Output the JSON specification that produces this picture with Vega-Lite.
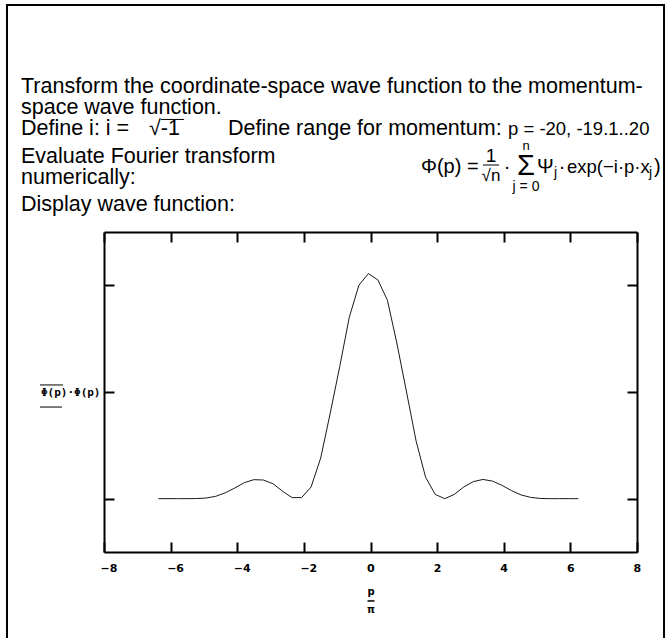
{
  "$schema": "https://vega.github.io/schema/vega-lite/v6.json",
  "width": 533,
  "height": 320,
  "autosize": {"type": "none"},
  "padding": {"left": 104, "top": 232, "right": 33, "bottom": 86},
  "background": "white",
  "config": {"view": {"stroke": null}, "font": "Liberation Sans"},
  "datasets": {
    "wave": [
      {"p_over_pi": -6.366, "density": 0},
      {"p_over_pi": -6.080, "density": 0},
      {"p_over_pi": -5.793, "density": 0},
      {"p_over_pi": -5.507, "density": 0},
      {"p_over_pi": -5.220, "density": 0.001},
      {"p_over_pi": -4.934, "density": 0.006},
      {"p_over_pi": -4.647, "density": 0.022},
      {"p_over_pi": -4.361, "density": 0.055},
      {"p_over_pi": -4.074, "density": 0.100},
      {"p_over_pi": -3.788, "density": 0.150},
      {"p_over_pi": -3.501, "density": 0.178},
      {"p_over_pi": -3.215, "density": 0.175},
      {"p_over_pi": -2.928, "density": 0.140},
      {"p_over_pi": -2.642, "density": 0.070},
      {"p_over_pi": -2.355, "density": 0.010},
      {"p_over_pi": -2.069, "density": 0.010},
      {"p_over_pi": -1.783, "density": 0.110},
      {"p_over_pi": -1.496, "density": 0.380},
      {"p_over_pi": -1.210, "density": 0.800},
      {"p_over_pi": -0.923, "density": 1.240},
      {"p_over_pi": -0.637, "density": 1.700},
      {"p_over_pi": -0.350, "density": 2.000},
      {"p_over_pi": -0.064, "density": 2.110},
      {"p_over_pi": 0.223, "density": 2.050},
      {"p_over_pi": 0.509, "density": 1.860},
      {"p_over_pi": 0.796, "density": 1.450},
      {"p_over_pi": 1.082, "density": 1.000},
      {"p_over_pi": 1.369, "density": 0.540},
      {"p_over_pi": 1.655, "density": 0.200},
      {"p_over_pi": 1.942, "density": 0.040},
      {"p_over_pi": 2.228, "density": 0.000},
      {"p_over_pi": 2.515, "density": 0.040},
      {"p_over_pi": 2.801, "density": 0.110},
      {"p_over_pi": 3.088, "density": 0.160},
      {"p_over_pi": 3.374, "density": 0.180},
      {"p_over_pi": 3.661, "density": 0.165},
      {"p_over_pi": 3.947, "density": 0.125},
      {"p_over_pi": 4.234, "density": 0.075},
      {"p_over_pi": 4.520, "density": 0.035},
      {"p_over_pi": 4.806, "density": 0.012},
      {"p_over_pi": 5.093, "density": 0.002},
      {"p_over_pi": 5.379, "density": 0},
      {"p_over_pi": 5.666, "density": 0},
      {"p_over_pi": 5.952, "density": 0},
      {"p_over_pi": 6.239, "density": 0}
    ]
  },
  "layer": [
    {
      "data": {"name": "wave"},
      "mark": {"type": "line", "color": "#1a1a1a", "strokeWidth": 1},
      "encoding": {
        "x": {
          "field": "p_over_pi", "type": "quantitative",
          "scale": {"domain": [-8, 8], "nice": false, "zero": false},
          "axis": {
            "orient": "bottom", "values": [-8, -6, -4, -2, 0, 2, 4, 6, 8],
            "grid": false, "tickSize": -10, "tickWidth": 2, "tickColor": "black",
            "domainColor": "black", "domainWidth": 2,
            "labelFont": "DejaVu Sans", "labelFontWeight": "bold", "labelFontSize": 11,
            "labelColor": "black", "labelPadding": 20, "labelAlign": "left", "labelOffset": -4,
            "labelFlush": true, "labelFlushOffset": 0,
            "title": ["p", "π"], "titleFont": "DejaVu Sans", "titleFontWeight": "bold",
            "titleFontSize": 10, "titleLineHeight": 18, "titlePadding": 13, "titleColor": "black"
          }
        },
        "y": {
          "field": "density", "type": "quantitative",
          "scale": {"domain": [-0.5, 2.5], "nice": false, "zero": false},
          "axis": {
            "orient": "left", "values": [0, 1, 2], "labels": false,
            "grid": false, "tickSize": -10, "tickWidth": 2, "tickColor": "black",
            "domainColor": "black", "domainWidth": 2,
            "title": "Φ(p)·Φ(p)", "titleAngle": 0, "titleAlign": "right", "titleBaseline": "middle",
            "titlePadding": 3, "titleFont": "DejaVu Sans Mono", "titleFontWeight": "bold",
            "titleFontSize": 11, "titleColor": "black"
          }
        }
      }
    },
    {
      "data": {"name": "wave"},
      "mark": {"type": "line", "strokeOpacity": 0},
      "encoding": {
        "x": {
          "field": "p_over_pi", "type": "quantitative",
          "axis": {
            "orient": "top", "values": [-8, -6, -4, -2, 0, 2, 4, 6, 8], "labels": false,
            "grid": false, "tickSize": -10, "tickWidth": 2, "tickColor": "black",
            "domainColor": "black", "domainWidth": 2, "title": null
          }
        },
        "y": {
          "field": "density", "type": "quantitative",
          "axis": {
            "orient": "right", "values": [0, 1, 2], "labels": false,
            "grid": false, "tickSize": -10, "tickWidth": 2, "tickColor": "black",
            "domainColor": "black", "domainWidth": 2, "title": null
          }
        }
      }
    },
    {
      "data": {"values": [{}]},
      "mark": {"type": "rect", "fillOpacity": 0, "stroke": "black", "strokeWidth": 2},
      "encoding": {
        "x": {"datum": -10.912, "type": "quantitative", "axis": null},
        "x2": {"datum": 8.811},
        "y": {"datum": 4.628, "type": "quantitative", "axis": null},
        "y2": {"datum": -1.372}
      }
    },
    {
      "data": {"values": [{}]},
      "mark": {"type": "rule", "color": "black", "strokeWidth": 1.5},
      "encoding": {
        "x": {"datum": -0.09, "type": "quantitative", "axis": null},
        "x2": {"datum": 0.12},
        "y": {"datum": -0.959, "type": "quantitative", "axis": null}
      }
    },
    {
      "data": {"values": [{}]},
      "mark": {"type": "rule", "color": "black", "strokeWidth": 1},
      "encoding": {
        "x": {"datum": -9.921, "type": "quantitative", "axis": null},
        "x2": {"datum": -9.231},
        "y": {"datum": 1.066, "type": "quantitative", "axis": null}
      }
    },
    {
      "data": {"values": [{}]},
      "mark": {"type": "rule", "color": "black", "strokeWidth": 1},
      "encoding": {
        "x": {"datum": -9.921, "type": "quantitative", "axis": null},
        "x2": {"datum": -9.261},
        "y": {"datum": 0.859, "type": "quantitative", "axis": null}
      }
    },
    {
      "data": {"values": [{}]},
      "mark": {"type": "rule", "color": "black", "strokeWidth": 1},
      "encoding": {
        "x": {"datum": -6.289, "type": "quantitative", "axis": null},
        "x2": {"datum": -5.599},
        "y": {"datum": 3.555, "type": "quantitative", "axis": null}
      }
    },
    {
      "data": {"values": [{}]},
      "mark": {"type": "rule", "color": "black", "strokeWidth": 1},
      "encoding": {
        "x": {"datum": 3.377, "type": "quantitative", "axis": null},
        "x2": {"datum": 3.857},
        "y": {"datum": 3.128, "type": "quantitative", "axis": null}
      }
    },
    {
      "data": {"values": [{}]},
      "mark": {"type": "text", "align": "left", "baseline": "middle", "fontSize": 21.5, "color": "black"},
      "encoding": {
        "x": {"datum": -10.492, "type": "quantitative", "axis": null},
        "y": {"datum": 3.859, "type": "quantitative", "axis": null},
        "text": {"value": "Transform the coordinate-space wave function to the momentum-"}
      }
    },
    {
      "data": {"values": [{}]},
      "mark": {"type": "text", "align": "left", "baseline": "middle", "fontSize": 21.5, "color": "black"},
      "encoding": {
        "x": {"datum": -10.492, "type": "quantitative", "axis": null},
        "y": {"datum": 3.6625, "type": "quantitative", "axis": null},
        "text": {"value": "space wave function."}
      }
    },
    {
      "data": {"values": [{}]},
      "mark": {"type": "text", "align": "left", "baseline": "middle", "fontSize": 21.5, "color": "black"},
      "encoding": {
        "x": {"datum": -10.492, "type": "quantitative", "axis": null},
        "y": {"datum": 3.4656, "type": "quantitative", "axis": null},
        "text": {"value": "Define i:  i ="}
      }
    },
    {
      "data": {"values": [{}]},
      "mark": {"type": "text", "align": "left", "baseline": "middle", "fontSize": 21.5, "color": "black"},
      "encoding": {
        "x": {"datum": -6.649, "type": "quantitative", "axis": null},
        "y": {"datum": 3.4656, "type": "quantitative", "axis": null},
        "text": {"value": "√-1"}
      }
    },
    {
      "data": {"values": [{}]},
      "mark": {"type": "text", "align": "left", "baseline": "middle", "fontSize": 21.5, "color": "black"},
      "encoding": {
        "x": {"datum": -4.278, "type": "quantitative", "axis": null},
        "y": {"datum": 3.4656, "type": "quantitative", "axis": null},
        "text": {"value": "Define range for momentum:"}
      }
    },
    {
      "data": {"values": [{}]},
      "mark": {"type": "text", "align": "left", "baseline": "middle", "fontSize": 18.5, "color": "black"},
      "encoding": {
        "x": {"datum": 4.128, "type": "quantitative", "axis": null},
        "y": {"datum": 3.4656, "type": "quantitative", "axis": null},
        "text": {"value": "p = -20, -19.1..20"}
      }
    },
    {
      "data": {"values": [{}]},
      "mark": {"type": "text", "align": "left", "baseline": "middle", "fontSize": 21.5, "color": "black"},
      "encoding": {
        "x": {"datum": -10.492, "type": "quantitative", "axis": null},
        "y": {"datum": 3.203, "type": "quantitative", "axis": null},
        "text": {"value": "Evaluate Fourier transform"}
      }
    },
    {
      "data": {"values": [{}]},
      "mark": {"type": "text", "align": "left", "baseline": "middle", "fontSize": 21.5, "color": "black"},
      "encoding": {
        "x": {"datum": -10.492, "type": "quantitative", "axis": null},
        "y": {"datum": 3.006, "type": "quantitative", "axis": null},
        "text": {"value": "numerically:"}
      }
    },
    {
      "data": {"values": [{}]},
      "mark": {"type": "text", "align": "left", "baseline": "middle", "fontSize": 21.5, "color": "black"},
      "encoding": {
        "x": {"datum": -10.492, "type": "quantitative", "axis": null},
        "y": {"datum": 2.753, "type": "quantitative", "axis": null},
        "text": {"value": "Display wave function:"}
      }
    },
    {
      "data": {"values": [{}]},
      "mark": {"type": "text", "align": "left", "baseline": "middle", "fontSize": 20, "color": "black"},
      "encoding": {
        "x": {"datum": 1.516, "type": "quantitative", "axis": null},
        "y": {"datum": 3.109, "type": "quantitative", "axis": null},
        "text": {"value": "Φ(p) ="}
      }
    },
    {
      "data": {"values": [{}]},
      "mark": {"type": "text", "align": "center", "baseline": "middle", "fontSize": 19, "color": "black"},
      "encoding": {
        "x": {"datum": 3.617, "type": "quantitative", "axis": null},
        "y": {"datum": 3.2125, "type": "quantitative", "axis": null},
        "text": {"value": "1"}
      }
    },
    {
      "data": {"values": [{}]},
      "mark": {"type": "text", "align": "center", "baseline": "middle", "fontSize": 17, "color": "black"},
      "encoding": {
        "x": {"datum": 3.617, "type": "quantitative", "axis": null},
        "y": {"datum": 3.025, "type": "quantitative", "axis": null},
        "text": {"value": "√n"}
      }
    },
    {
      "data": {"values": [{}]},
      "mark": {"type": "text", "align": "center", "baseline": "middle", "fontSize": 20, "color": "black"},
      "encoding": {
        "x": {"datum": 4.098, "type": "quantitative", "axis": null},
        "y": {"datum": 3.109, "type": "quantitative", "axis": null},
        "text": {"value": "·"}
      }
    },
    {
      "data": {"values": [{}]},
      "mark": {"type": "text", "align": "center", "baseline": "middle", "fontSize": 29, "color": "black"},
      "encoding": {
        "x": {"datum": 4.668, "type": "quantitative", "axis": null},
        "y": {"datum": 3.119, "type": "quantitative", "axis": null},
        "text": {"value": "Σ"}
      }
    },
    {
      "data": {"values": [{}]},
      "mark": {"type": "text", "align": "center", "baseline": "middle", "fontSize": 13, "color": "black"},
      "encoding": {
        "x": {"datum": 4.668, "type": "quantitative", "axis": null},
        "y": {"datum": 3.306, "type": "quantitative", "axis": null},
        "text": {"value": "n"}
      }
    },
    {
      "data": {"values": [{}]},
      "mark": {"type": "text", "align": "center", "baseline": "middle", "fontSize": 14, "color": "black"},
      "encoding": {
        "x": {"datum": 4.668, "type": "quantitative", "axis": null},
        "y": {"datum": 2.921, "type": "quantitative", "axis": null},
        "text": {"value": "j = 0"}
      }
    },
    {
      "data": {"values": [{}]},
      "mark": {"type": "text", "align": "left", "baseline": "middle", "fontSize": 20, "color": "black"},
      "encoding": {
        "x": {"datum": 4.998, "type": "quantitative", "axis": null},
        "y": {"datum": 3.109, "type": "quantitative", "axis": null},
        "text": {"value": "Ψ"}
      }
    },
    {
      "data": {"values": [{}]},
      "mark": {"type": "text", "align": "left", "baseline": "middle", "fontSize": 14, "color": "black"},
      "encoding": {
        "x": {"datum": 5.508, "type": "quantitative", "axis": null},
        "y": {"datum": 3.053, "type": "quantitative", "axis": null},
        "text": {"value": "j"}
      }
    },
    {
      "data": {"values": [{}]},
      "mark": {"type": "text", "align": "center", "baseline": "middle", "fontSize": 20, "color": "black"},
      "encoding": {
        "x": {"datum": 5.749, "type": "quantitative", "axis": null},
        "y": {"datum": 3.109, "type": "quantitative", "axis": null},
        "text": {"value": "·"}
      }
    },
    {
      "data": {"values": [{}]},
      "mark": {"type": "text", "align": "left", "baseline": "middle", "fontSize": 18.5, "color": "black"},
      "encoding": {
        "x": {"datum": 5.899, "type": "quantitative", "axis": null},
        "y": {"datum": 3.109, "type": "quantitative", "axis": null},
        "text": {"value": "exp(−i·p·x"}
      }
    },
    {
      "data": {"values": [{}]},
      "mark": {"type": "text", "align": "left", "baseline": "middle", "fontSize": 14, "color": "black"},
      "encoding": {
        "x": {"datum": 8.36, "type": "quantitative", "axis": null},
        "y": {"datum": 3.053, "type": "quantitative", "axis": null},
        "text": {"value": "j"}
      }
    },
    {
      "data": {"values": [{}]},
      "mark": {"type": "text", "align": "left", "baseline": "middle", "fontSize": 20, "color": "black"},
      "encoding": {
        "x": {"datum": 8.51, "type": "quantitative", "axis": null},
        "y": {"datum": 3.109, "type": "quantitative", "axis": null},
        "text": {"value": ")"}
      }
    }
  ],
  "resolve": {"axis": {"x": "independent", "y": "independent"}}
}
